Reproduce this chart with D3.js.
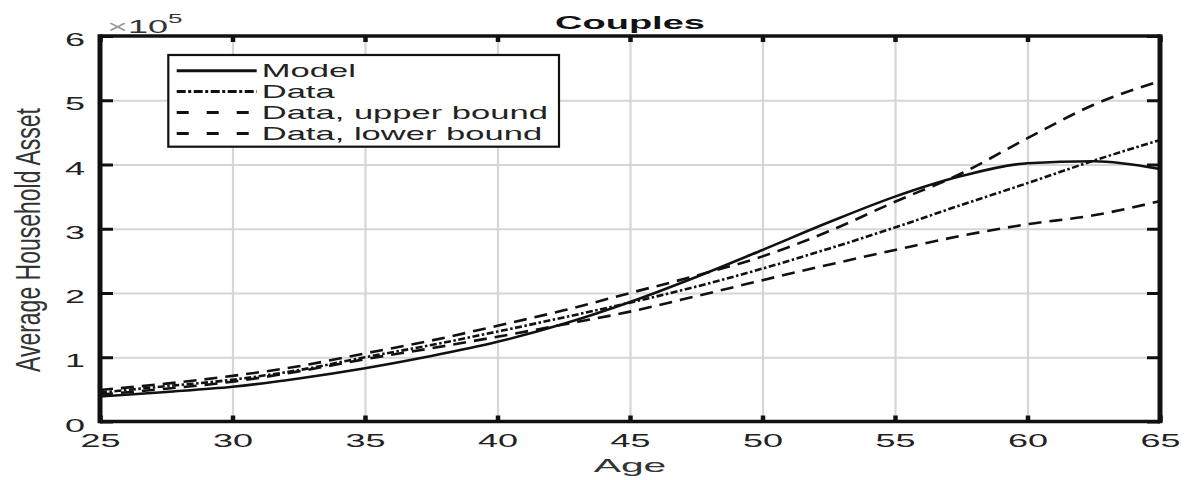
<!DOCTYPE html>
<html>
<head>
<meta charset="utf-8">
<script src="https://cdn.jsdelivr.net/npm/d3@7"></script>
<style>
  html, body { margin: 0; padding: 0; background: #fff; }
  svg { display: block; }
</style>
</head>
<body>
<svg id="chart" width="1193" height="480"></svg>
<script>
// ---------- data (values in units of 10^5) ----------
const ages = [25, 27.5, 30, 32.5, 35, 37.5, 40, 42.5, 45, 47.5, 50, 52.5, 55, 57.5, 60, 62.5, 65];
const modelValues = [0.39, 0.46, 0.54, 0.67, 0.83, 1.02, 1.24, 1.52, 1.86, 2.25, 2.67, 3.10, 3.50, 3.82, 4.02, 4.05, 3.93];
const dataValues  = [0.45, 0.55, 0.65, 0.80, 1.00, 1.19, 1.40, 1.62, 1.85, 2.10, 2.38, 2.69, 3.02, 3.37, 3.71, 4.06, 4.38];
const upperValues = [0.49, 0.59, 0.71, 0.86, 1.06, 1.26, 1.49, 1.73, 2.00, 2.27, 2.57, 2.96, 3.42, 3.86, 4.41, 4.93, 5.30];
const lowerValues = [0.42, 0.51, 0.62, 0.78, 0.97, 1.14, 1.32, 1.51, 1.71, 1.95, 2.20, 2.44, 2.67, 2.89, 3.07, 3.21, 3.43];
const seriesNames = ["Model", "Data", "Data, upper bound", "Data, lower bound"];
const xTicks = [25, 30, 35, 40, 45, 50, 55, 60, 65];
const yTicks = [0, 1, 2, 3, 4, 5, 6];
const titleText = "Couples";
const xLabel = "Age";
const yLabel = "Average Household Asset";

// ---------- layout ----------
const L = 100, R = 1160, T = 36, B = 421.5;
const FONT = "'Liberation Sans', Arial, Helvetica, sans-serif";
const SX = 2.0;

const svg = d3.select("#chart");
const x = d3.scaleLinear().domain([25, 65]).range([L, R]);
const y = d3.scaleLinear().domain([0, 6]).range([B, T]);

function stext(parent, px, py, str, o = {}) {
  const size = o.size || 18, sx = o.sx || SX;
  return parent.append("text")
    .attr("transform", `translate(${px},${py}) scale(${sx},1)`)
    .attr("text-anchor", o.anchor || "middle")
    .attr("font-family", FONT)
    .attr("font-size", size)
    .attr("font-weight", o.weight || "normal")
    .attr("fill", o.fill || "#111")
    .text(str);
}

// ---------- grid ----------
const grid = svg.append("g");
grid.append("g").attr("transform", `translate(0,${B})`)
  .call(d3.axisBottom(x).tickValues(xTicks.slice(1, -1)).tickSize(-(B - T)).tickFormat(""))
  .call(g => g.select(".domain").remove())
  .call(g => g.selectAll("line").attr("stroke", "#d6d6d6").attr("stroke-width", 2.2));
grid.append("g").attr("transform", `translate(${L},0)`)
  .call(d3.axisLeft(y).tickValues(yTicks.slice(1, -1)).tickSize(-(R - L)).tickFormat(""))
  .call(g => g.select(".domain").remove())
  .call(g => g.selectAll("line").attr("stroke", "#d6d6d6").attr("stroke-width", 2));

// ---------- series ----------
const line = d3.line().x(d => x(d[0])).y(d => y(d[1])).curve(d3.curveMonotoneX);
const series = [
  { vals: modelValues, dash: null, ldash: null },
  { vals: dataValues, dash: "7,2.5,2.5,2.5", ldash: "9,2.5,3,2.5" },
  { vals: upperValues, dash: "13,8", ldash: "12,18" },
  { vals: lowerValues, dash: "13,8", ldash: "12,18" }
];
const plotG = svg.append("g");
series.forEach(s => {
  plotG.append("path")
    .datum(ages.map((a, i) => [a, s.vals[i]]))
    .attr("d", line)
    .attr("fill", "none")
    .attr("stroke", "#111")
    .attr("stroke-width", 2.6)
    .attr("stroke-dasharray", s.dash);
});

// ---------- frame & ticks ----------
const axG = svg.append("g");
axG.append("g").attr("transform", `translate(0,${B})`)
  .call(d3.axisBottom(x).tickValues(xTicks).tickSize(-6).tickPadding(13).tickFormat(d3.format("d")))
  .call(g => g.select(".domain").remove())
  .call(g => g.selectAll("line").attr("stroke", "#111").attr("stroke-width", 4.5))
  .call(g => g.selectAll("text")
    .attr("transform", `scale(${SX},1)`)
    .attr("font-family", FONT).attr("font-size", 18).attr("fill", "#222"));
axG.append("g").attr("transform", `translate(0,${T})`)
  .call(d3.axisTop(x).tickValues(xTicks).tickSize(-6).tickFormat(""))
  .call(g => g.select(".domain").remove())
  .call(g => g.selectAll("line").attr("stroke", "#111").attr("stroke-width", 4.5));
axG.append("g").attr("transform", `translate(${L},0)`)
  .call(d3.axisLeft(y).tickValues(yTicks).tickSize(-13).tickPadding(15).tickFormat(d3.format("d")))
  .call(g => g.select(".domain").remove())
  .call(g => g.selectAll("line").attr("stroke", "#111").attr("stroke-width", 3))
  .call(g => g.selectAll("text")
    .attr("transform", `scale(${SX},1)`)
    .attr("x", -15 / SX).attr("dy", "0.53em")
    .attr("font-family", FONT).attr("font-size", 18).attr("fill", "#222"));
axG.append("g").attr("transform", `translate(${R},0)`)
  .call(d3.axisRight(y).tickValues(yTicks).tickSize(-13).tickFormat(""))
  .call(g => g.select(".domain").remove())
  .call(g => g.selectAll("line").attr("stroke", "#111").attr("stroke-width", 3));

// frame lines
axG.append("line").attr("x1", L).attr("x2", R).attr("y1", T).attr("y2", T).attr("stroke", "#111").attr("stroke-width", 3.5);
axG.append("line").attr("x1", L).attr("x2", R).attr("y1", B).attr("y2", B).attr("stroke", "#111").attr("stroke-width", 3.5);
axG.append("line").attr("x1", L).attr("x2", L).attr("y1", T - 1.75).attr("y2", B + 1.75).attr("stroke", "#111").attr("stroke-width", 5);
axG.append("line").attr("x1", R).attr("x2", R).attr("y1", T - 1.75).attr("y2", B + 1.75).attr("stroke", "#111").attr("stroke-width", 5);

// ---------- texts ----------
stext(svg, (L + R) / 2, 29, titleText, { size: 19, weight: "bold" });
stext(svg, 630, 472, xLabel, { size: 19, sx: 2.15, fill: "#333" });

// exponent label
const ex = stext(svg, 107, 33, "", { anchor: "start", size: 18, fill: "#333" });
ex.append("tspan").attr("fill", "#999").text("\u00d7");
ex.append("tspan").text("10");
ex.append("tspan").attr("font-size", 13).attr("dy", -10).text("5");

// y label (rotated)
svg.append("text")
  .attr("transform", `translate(40,240) rotate(-90) scale(1,1.75)`)
  .attr("text-anchor", "middle")
  .attr("font-family", FONT)
  .attr("font-size", 20)
  .attr("fill", "#333")
  .attr("textLength", 264)
  .attr("lengthAdjust", "spacingAndGlyphs")
  .text(yLabel);

// ---------- legend ----------
const lg = svg.append("g");
lg.append("rect").attr("x", 168.3).attr("y", 55).attr("width", 390.7).attr("height", 91.7)
  .attr("fill", "#fff").attr("stroke", "#111").attr("stroke-width", 2.2);
seriesNames.forEach((name, i) => {
  const cy = 70.7 + i * 20.9;
  lg.append("line").attr("x1", 176.7).attr("x2", 256.7).attr("y1", cy).attr("y2", cy)
    .attr("stroke", "#111").attr("stroke-width", 3)
    .attr("stroke-dasharray", series[i].ldash);
  stext(lg, 261.7, cy + 6.5, name, { anchor: "start", size: 18, sx: 1.92, fill: "#222" });
});
</script>
</body>
</html>
